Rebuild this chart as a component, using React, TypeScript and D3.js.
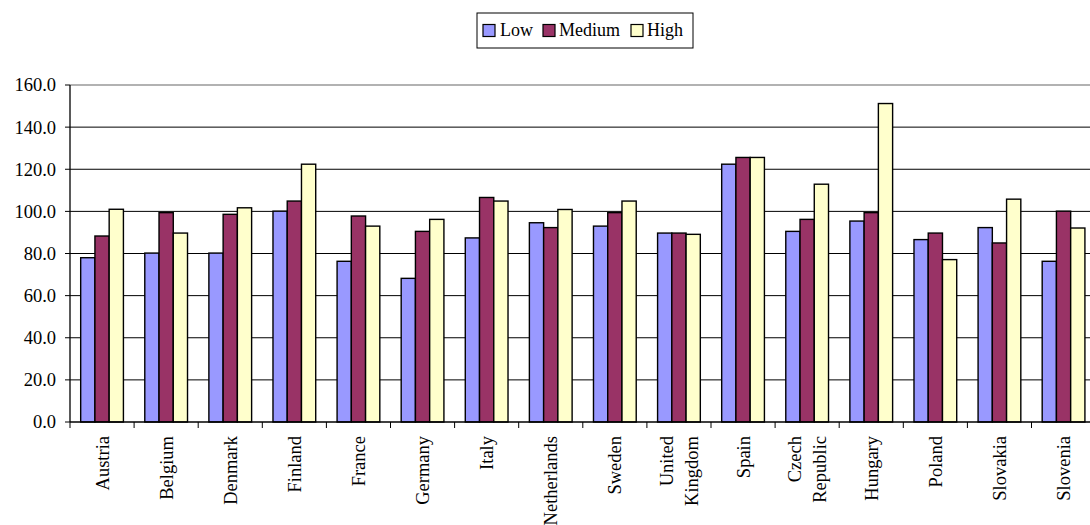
import { scaleBand, scaleLinear } from "d3";

const countries = [
  "Austria",
  "Belgium",
  "Denmark",
  "Finland",
  "France",
  "Germany",
  "Italy",
  "Netherlands",
  "Sweden",
  "United Kingdom",
  "Spain",
  "Czech Republic",
  "Hungary",
  "Poland",
  "Slovakia",
  "Slovenia"
];

const lowValues = [78.0, 80.2, 80.2, 100.1, 76.3, 68.2, 87.4, 94.6, 93.0, 89.7, 122.4, 90.5, 95.4, 86.6, 92.3, 76.3];
const mediumValues = [88.3, 99.4, 98.6, 104.9, 97.8, 90.5, 106.6, 92.3, 99.4, 89.7, 125.6, 96.2, 99.4, 89.7, 85.0, 100.1];
const highValues = [101.0, 89.7, 101.7, 122.4, 93.0, 96.2, 104.9, 100.9, 104.9, 89.1, 125.6, 112.9, 151.2, 77.1, 105.8, 92.1];

const seriesNames = ["Low", "Medium", "High"];
const seriesColors = ["#9999FF", "#993366", "#FFFFCC"];
const yTicks = [0, 20, 40, 60, 80, 100, 120, 140, 160];

const width = 1090;
const height = 525;
const plotLeft = 70;
const plotRight = 1095.6;
const plotTop = 85;
const plotBottom = 422;
const font = "Liberation Serif, Times New Roman, serif";

export default function App(): React.JSX.Element {
  const series = [lowValues, mediumValues, highValues];
  const x = scaleBand<string>().domain(countries).range([plotLeft, plotRight]);
  const y = scaleLinear().domain([0, 160]).range([plotBottom, plotTop]);
  const inner = scaleBand<string>()
    .domain(seriesNames)
    .range([0, x.bandwidth()])
    .paddingInner(0)
    .paddingOuter(0.75);

  // legend slots, left to right
  const legendItems = [
    { name: "Low", sx: 483, tx: 500 },
    { name: "Medium", sx: 543, tx: 559 },
    { name: "High", sx: 631, tx: 647 }
  ];

  return (
    <div style={{ position: "absolute", left: 0, top: 0 }}>
      <svg width={width} height={height} style={{ display: "block", background: "#fff", fontFamily: font }}>
        {yTicks.slice(1, -1).map((t) => (
          <line key={t} x1={plotLeft} x2={plotRight} y1={y(t)} y2={y(t)} stroke="#000" strokeWidth={1} />
        ))}
        <line x1={plotLeft} x2={plotRight} y1={y(160)} y2={y(160)} stroke="#999" strokeWidth={1.5} />

        {series.map((values, si) =>
          values.map((v, ci) => {
            const bx = (x(countries[ci]) ?? 0) + (inner(seriesNames[si]) ?? 0);
            return (
              <rect
                key={`${si}-${ci}`}
                x={bx}
                y={y(v)}
                width={inner.bandwidth()}
                height={plotBottom - y(v)}
                fill={seriesColors[si]}
                stroke="#000"
                strokeWidth={1.4}
              />
            );
          })
        )}

        <line x1={plotLeft} x2={plotLeft} y1={plotTop} y2={plotBottom} stroke="#000" strokeWidth={1.3} />
        {yTicks.map((t) => (
          <g key={t}>
            <line x1={plotLeft - 5} x2={plotLeft} y1={y(t)} y2={y(t)} stroke="#000" strokeWidth={1} />
            <text x={56} y={y(t)} dy="0.35em" textAnchor="end" fontSize={18.5}>
              {t.toFixed(1)}
            </text>
          </g>
        ))}

        <line x1={plotLeft} x2={plotRight} y1={plotBottom} y2={plotBottom} stroke="#000" strokeWidth={1.3} />
        {countries.map((c) => (
          <line
            key={c}
            x1={x(c) ?? 0}
            x2={x(c) ?? 0}
            y1={plotBottom}
            y2={plotBottom + 6}
            stroke="#000"
            strokeWidth={1}
          />
        ))}
        {countries.map((c) => {
          const cx = (x(c) ?? 0) + x.bandwidth() / 2;
          const lines = c.split(" ");
          return lines.map((ln, li) => {
            const off = (li - (lines.length - 1) / 2) * 25;
            return (
              <text
                key={`${c}-${li}`}
                transform={`translate(${cx + off},436) rotate(-90)`}
                dy="0.35em"
                textAnchor="end"
                fontSize={18.5}
              >
                {ln}
              </text>
            );
          });
        })}

        <rect x={477} y={13} width={216} height={35} fill="#fff" stroke="#000" strokeWidth={1} />
        {legendItems.map((item, i) => (
          <g key={item.name}>
            <rect x={item.sx} y={24.5} width={12} height={12} fill={seriesColors[i]} stroke="#000" strokeWidth={1.2} />
            <text x={item.tx} y={36} fontSize={18}>
              {item.name}
            </text>
          </g>
        ))}
      </svg>
    </div>
  );
}
